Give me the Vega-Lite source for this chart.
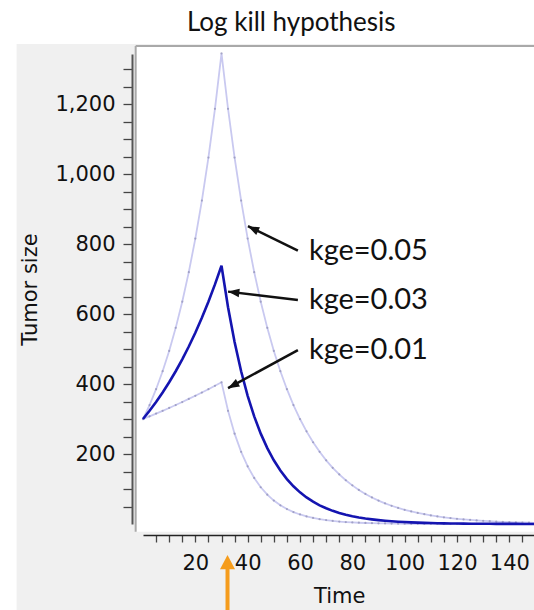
{
  "$schema": "https://vega.github.io/schema/vega-lite/v6.json",
  "width": 392.5,
  "height": 470,
  "autosize": "none",
  "padding": {"left": 143, "top": 54, "right": 0, "bottom": 86},
  "background": "#f0f0f0",
  "view": {"stroke": null},
  "title": {"text": "Log kill hypothesis", "font": "Lato", "fontSize": 26, "fontWeight": "normal", "color": "#111111", "anchor": "middle", "dx": -48, "frame": "group", "offset": -36},
  "datasets": {
    "curves": [
      {"t": 0, "k05": 300, "k03": 300, "k01": 300},
      {"t": 2.5, "k05": 339.9, "k03": 323.4, "k01": 307.6},
      {"t": 5, "k05": 385.2, "k03": 348.5, "k01": 315.4},
      {"t": 7.5, "k05": 436.5, "k03": 375.7, "k01": 323.4},
      {"t": 10, "k05": 494.6, "k03": 405.0, "k01": 331.6},
      {"t": 12.5, "k05": 560.5, "k03": 436.5, "k01": 339.9},
      {"t": 15, "k05": 635.1, "k03": 470.5, "k01": 348.5},
      {"t": 17.5, "k05": 719.7, "k03": 507.1, "k01": 357.4},
      {"t": 20, "k05": 815.5, "k03": 546.6, "k01": 366.4},
      {"t": 22.5, "k05": 924.1, "k03": 589.2, "k01": 375.7},
      {"t": 25, "k05": 1047.1, "k03": 635.1, "k01": 385.2},
      {"t": 27.5, "k05": 1186.5, "k03": 684.6, "k01": 395.0},
      {"t": 30, "k05": 1344.5, "k03": 737.9, "k01": 405.0},
      {"t": 32.5, "k05": 1186.5, "k03": 619.5, "k01": 323.4},
      {"t": 35, "k05": 1047.1, "k03": 520.0, "k01": 258.2},
      {"t": 37.5, "k05": 924.1, "k03": 436.5, "k01": 206.2},
      {"t": 40, "k05": 815.5, "k03": 366.4, "k01": 164.7},
      {"t": 42.5, "k05": 719.7, "k03": 307.6, "k01": 131.5},
      {"t": 45, "k05": 635.1, "k03": 258.2, "k01": 105.0},
      {"t": 47.5, "k05": 560.5, "k03": 216.8, "k01": 83.8},
      {"t": 50, "k05": 494.6, "k03": 182.0, "k01": 66.9},
      {"t": 52.5, "k05": 436.5, "k03": 152.7, "k01": 53.5},
      {"t": 55, "k05": 385.2, "k03": 128.2, "k01": 42.7},
      {"t": 57.5, "k05": 339.9, "k03": 107.7, "k01": 34.1},
      {"t": 60, "k05": 300.0, "k03": 90.4, "k01": 27.2},
      {"t": 62.5, "k05": 264.7, "k03": 75.9, "k01": 21.7},
      {"t": 65, "k05": 233.6, "k03": 63.7, "k01": 17.4},
      {"t": 67.5, "k05": 206.2, "k03": 53.4, "k01": 13.9},
      {"t": 70, "k05": 181.9, "k03": 44.9, "k01": 11.1},
      {"t": 72.5, "k05": 160.6, "k03": 37.6, "k01": 8.8},
      {"t": 75, "k05": 141.7, "k03": 31.7, "k01": 7.0},
      {"t": 77.5, "k05": 125.0, "k03": 26.6, "k01": 5.6},
      {"t": 80, "k05": 110.4, "k03": 22.3, "k01": 4.5},
      {"t": 82.5, "k05": 97.4, "k03": 18.7, "k01": 3.6},
      {"t": 85, "k05": 85.9, "k03": 15.7, "k01": 2.9},
      {"t": 87.5, "k05": 75.9, "k03": 13.2, "k01": 2.3},
      {"t": 90, "k05": 66.9, "k03": 11.1, "k01": 1.8},
      {"t": 92.5, "k05": 59.1, "k03": 9.3, "k01": 1.5},
      {"t": 95, "k05": 52.1, "k03": 7.8, "k01": 1.2},
      {"t": 97.5, "k05": 46.0, "k03": 6.6, "k01": 0.9},
      {"t": 100, "k05": 40.6, "k03": 5.5, "k01": 0.7},
      {"t": 102.5, "k05": 35.8, "k03": 4.6, "k01": 0.6},
      {"t": 105, "k05": 31.6, "k03": 3.8, "k01": 0.5},
      {"t": 107.5, "k05": 27.9, "k03": 3.2, "k01": 0.4},
      {"t": 110, "k05": 24.6, "k03": 2.7, "k01": 0.3},
      {"t": 112.5, "k05": 21.7, "k03": 2.3, "k01": 0.2},
      {"t": 115, "k05": 19.2, "k03": 1.9, "k01": 0.2},
      {"t": 117.5, "k05": 16.9, "k03": 1.6, "k01": 0.2},
      {"t": 120, "k05": 14.9, "k03": 1.3, "k01": 0.1},
      {"t": 122.5, "k05": 13.2, "k03": 1.1, "k01": 0.1},
      {"t": 125, "k05": 11.6, "k03": 0.9, "k01": 0.1},
      {"t": 127.5, "k05": 10.3, "k03": 0.8, "k01": 0.1},
      {"t": 130, "k05": 9.1, "k03": 0.7, "k01": 0.1},
      {"t": 132.5, "k05": 8.0, "k03": 0.6, "k01": 0.1},
      {"t": 135, "k05": 7.0, "k03": 0.5, "k01": 0.1},
      {"t": 137.5, "k05": 6.2, "k03": 0.4, "k01": 0.1},
      {"t": 140, "k05": 5.5, "k03": 0.3, "k01": 0.1},
      {"t": 142.5, "k05": 4.8, "k03": 0.3, "k01": 0.1},
      {"t": 145, "k05": 4.3, "k03": 0.2, "k01": 0.1},
      {"t": 147.5, "k05": 3.8, "k03": 0.2, "k01": 0.1},
      {"t": 150, "k05": 3.3, "k03": 0.2, "k01": 0.1}
    ],
    "ann": [
      {"series": "k05", "label": "kge=0.05", "t": 59.2, "v": 781, "t2": 40.1, "v2": 851},
      {"series": "k03", "label": "kge=0.03", "t": 59.2, "v": 640, "t2": 32.5, "v2": 664},
      {"series": "k01", "label": "kge=0.01", "t": 59.2, "v": 497, "t2": 32.5, "v2": 388}
    ]
  },
  "layer": [
    {
      "data": {"values": [{}]},
      "mark": {"type": "rect", "fill": "white"},
      "encoding": {
        "x": {"datum": -60, "type": "quantitative"},
        "x2": {"datum": 170},
        "y": {"datum": 1497, "type": "quantitative"},
        "y2": {"datum": 1371.6}
      }
    },
    {
      "data": {"values": [{}]},
      "mark": {"type": "rect", "fill": "white"},
      "encoding": {
        "x": {"datum": -60, "type": "quantitative"},
        "x2": {"datum": -48.3},
        "y": {"datum": 1497, "type": "quantitative"},
        "y2": {"datum": -300}
      }
    },
    {
      "data": {"values": [{}]},
      "mark": {"type": "rect", "fill": "white"},
      "encoding": {
        "x": {"datum": -2.8, "type": "quantitative"},
        "x2": {"datum": 170},
        "y": {"datum": 1366, "type": "quantitative"},
        "y2": {"datum": -22}
      }
    },
    {
      "data": {"values": [{}]},
      "mark": {"type": "rule", "color": "#a9a9a9", "strokeWidth": 2},
      "encoding": {
        "x": {"datum": -2.8, "type": "quantitative"},
        "y": {"datum": 1366, "type": "quantitative"},
        "y2": {"datum": -22}
      }
    },
    {
      "data": {"values": [{}]},
      "mark": {"type": "rule", "color": "#a9a9a9", "strokeWidth": 2},
      "encoding": {
        "x": {"datum": -2.8, "type": "quantitative"},
        "x2": {"datum": 170},
        "y": {"datum": 1366, "type": "quantitative"}
      }
    },
    {
      "data": {"name": "curves"},
      "transform": [
        {"fold": ["k05", "k03", "k01"], "as": ["series", "value"]},
        {"filter": "datum.series !== 'k03'"}
      ],
      "mark": {"type": "line", "color": "#c9c9f0", "strokeWidth": 1.8},
      "encoding": {
        "x": {
          "field": "t", "type": "quantitative",
          "scale": {"domain": [0, 150], "nice": false, "zero": false},
          "axis": {
            "title": "Time", "offset": 11, "tickCount": 200,
            "values": [5,10,15,20,25,30,35,40,45,50,55,60,65,70,75,80,85,90,95,100,105,110,115,120,125,130,135,140,145,150],
            "labelExpr": "datum.value % 20 === 0 ? datum.label : ''",
            "labelOverlap": false, "labelFlush": false,
            "labelFont": "DejaVu Sans", "labelFontSize": 21, "labelColor": "#111111",
            "titleFont": "DejaVu Sans", "titleFontSize": 21, "titleFontWeight": "normal", "titleColor": "#111111",
            "domainColor": "#222222", "domainWidth": 1.5,
            "tickColor": "#444444", "tickWidth": 1.3, "tickSize": 7,
            "labelPadding": 10, "titlePadding": 12,
            "encode": {"ticks": {"update": {"y2": [{"test": "datum.value % 10 === 0", "value": 7}, {"value": 4}]}}}
          }
        },
        "y": {
          "field": "value", "type": "quantitative",
          "scale": {"domain": [0, 1343], "nice": false, "zero": false},
          "axis": {
            "title": "Tumor size", "offset": 11, "tickCount": 200,
            "values": [50,100,150,200,250,300,350,400,450,500,550,600,650,700,750,800,850,900,950,1000,1050,1100,1150,1200,1250,1300],
            "format": ",",
            "labelExpr": "datum.value % 200 === 0 ? datum.label : ''",
            "labelOverlap": false, "labelFlush": false,
            "labelFont": "DejaVu Sans", "labelFontSize": 21, "labelColor": "#111111",
            "titleFont": "DejaVu Sans", "titleFontSize": 21, "titleFontWeight": "normal", "titleColor": "#111111",
            "domainColor": "#555555", "domainWidth": 2,
            "tickColor": "#444444", "tickWidth": 1.3, "tickSize": 9,
            "labelPadding": 8, "titlePadding": 14,
            "encode": {"ticks": {"update": {"x2": [{"test": "datum.value % 100 === 0", "value": -9}, {"value": -5}]}}}
          }
        },
        "detail": {"field": "series"}
      }
    },
    {
      "data": {"name": "curves"},
      "transform": [
        {"fold": ["k05", "k03", "k01"], "as": ["series", "value"]},
        {"filter": "datum.series !== 'k03'"}
      ],
      "mark": {"type": "point", "filled": true, "size": 5, "color": "#8f8fb5", "opacity": 0.7},
      "encoding": {
        "x": {"field": "t", "type": "quantitative"},
        "y": {"field": "value", "type": "quantitative"}
      }
    },
    {
      "data": {"name": "curves"},
      "transform": [
        {"fold": ["k05", "k03", "k01"], "as": ["series", "value"]},
        {"filter": "datum.series === 'k03'"}
      ],
      "mark": {"type": "line", "color": "#1414b0", "strokeWidth": 2.6},
      "encoding": {
        "x": {"field": "t", "type": "quantitative"},
        "y": {"field": "value", "type": "quantitative"}
      }
    },
    {
      "data": {"name": "ann"},
      "mark": {"type": "rule", "color": "#111111", "strokeWidth": 2.5},
      "encoding": {
        "x": {"field": "t", "type": "quantitative"},
        "y": {"field": "v", "type": "quantitative"},
        "x2": {"field": "t2"},
        "y2": {"field": "v2"}
      }
    },
    {
      "data": {"name": "ann"},
      "transform": [{"filter": "datum.series === 'k05'"}],
      "mark": {"type": "point", "shape": "M0,0L-0.6,1.6L0.6,1.6Z", "filled": true, "color": "#111111", "opacity": 1, "size": 200, "angle": 296},
      "encoding": {
        "x": {"field": "t2", "type": "quantitative"},
        "y": {"field": "v2", "type": "quantitative"}
      }
    },
    {
      "data": {"name": "ann"},
      "transform": [{"filter": "datum.series === 'k03'"}],
      "mark": {"type": "point", "shape": "M0,0L-0.6,1.6L0.6,1.6Z", "filled": true, "color": "#111111", "opacity": 1, "size": 200, "angle": 277},
      "encoding": {
        "x": {"field": "t2", "type": "quantitative"},
        "y": {"field": "v2", "type": "quantitative"}
      }
    },
    {
      "data": {"name": "ann"},
      "transform": [{"filter": "datum.series === 'k01'"}],
      "mark": {"type": "point", "shape": "M0,0L-0.6,1.6L0.6,1.6Z", "filled": true, "color": "#111111", "opacity": 1, "size": 200, "angle": 241},
      "encoding": {
        "x": {"field": "t2", "type": "quantitative"},
        "y": {"field": "v2", "type": "quantitative"}
      }
    },
    {
      "data": {"name": "ann"},
      "mark": {"type": "text", "font": "Lato", "fontSize": 29, "align": "left", "baseline": "middle", "color": "#111111", "dx": 11},
      "encoding": {
        "x": {"field": "t", "type": "quantitative"},
        "y": {"field": "v", "type": "quantitative"},
        "text": {"field": "label"}
      }
    },
    {
      "data": {"values": [{}]},
      "mark": {"type": "rule", "color": "#f59c1c", "strokeWidth": 4},
      "encoding": {
        "x": {"datum": 32.3, "type": "quantitative"},
        "y": {"datum": -120, "type": "quantitative"},
        "y2": {"datum": -290}
      }
    },
    {
      "data": {"values": [{}]},
      "mark": {"type": "point", "shape": "M0,0L-1,1.9L1,1.9Z", "filled": true, "color": "#f59c1c", "opacity": 1, "size": 225},
      "encoding": {
        "x": {"datum": 32.3, "type": "quantitative"},
        "y": {"datum": -88.6, "type": "quantitative"}
      }
    }
  ],
  "config": {
    "axis": {"grid": false}
  }
}
